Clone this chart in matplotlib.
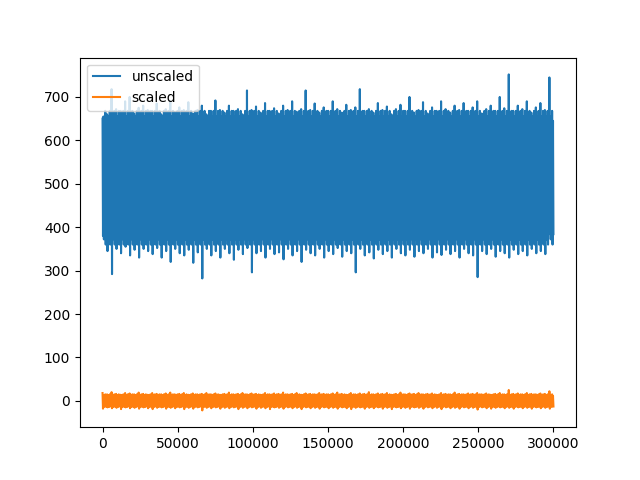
import numpy as np
import matplotlib
matplotlib.use("Agg")
import matplotlib.pyplot as plt

# envelope samples, one pair per ~3000 steps
unscaled_hi = [650, 660, 718, 672, 668, 690, 700, 662, 675, 680,
               670, 668, 685, 660, 672, 690, 665, 676, 670, 688,
               662, 670, 680, 660, 668, 692, 670, 664, 680, 668,
               672, 660, 715, 670, 678, 664, 686, 668, 674, 662,
               680, 670, 690, 666, 672, 715, 670, 685, 664, 676,
               668, 690, 672, 664, 682, 670, 676, 718, 668, 672,
               664, 686, 670, 678, 660, 672, 682, 668, 700, 664,
               670, 688, 662, 676, 668, 690, 672, 664, 680, 670,
               686, 668, 676, 690, 662, 672, 680, 668, 700, 674,
               752, 668, 680, 672, 690, 664, 676, 686, 670, 745]
unscaled_lo = [380, 345, 292, 350, 340, 355, 335, 348, 330, 350,
               345, 338, 352, 330, 345, 320, 350, 340, 335, 348,
               318, 342, 282, 350, 335, 345, 330, 350, 340, 325,
               348, 338, 352, 296, 340, 345, 330, 350, 338, 342,
               326, 350, 335, 345, 320, 348, 340, 335, 350, 330,
               345, 338, 352, 332, 345, 340, 296, 350, 335, 342,
               328, 348, 338, 345, 330, 350, 340, 335, 348, 332,
               345, 340, 350, 330, 342, 336, 348, 338, 345, 330,
               350, 340, 335, 285, 345, 338, 350, 332, 345, 340,
               330, 348, 338, 345, 335, 350, 340, 345, 338, 385]
# typical in-band swings around each envelope sample
unscaled_core = [655, 372, 632, 392, 668, 360, 645, 384]
scaled_hi = [18, 15, 20, 16, 14, 18, 17, 15, 19, 16,
             14, 18, 16, 15, 17, 19, 15, 16, 18, 14,
             17, 15, 16, 18, 15, 17, 14, 16, 19, 15,
             16, 18, 15, 17, 16, 14, 18, 15, 17, 16,
             19, 15, 16, 18, 14, 17, 16, 15, 18, 16,
             15, 17, 19, 16, 14, 18, 15, 17, 16, 20,
             15, 17, 16, 18, 14, 16, 19, 15, 17, 16,
             18, 15, 16, 17, 14, 18, 16, 15, 19, 16,
             15, 17, 16, 18, 15, 17, 14, 16, 18, 15,
             25, 16, 17, 15, 18, 16, 15, 17, 16, 22]
scaled_lo = [-18, -15, -17, -16, -19, -15, -17, -16, -18, -15,
             -17, -19, -16, -15, -18, -16, -17, -15, -19, -16,
             -18, -15, -22, -16, -17, -15, -18, -16, -17, -15,
             -19, -16, -17, -15, -18, -16, -17, -19, -15, -16,
             -18, -15, -17, -16, -19, -15, -17, -16, -18, -15,
             -17, -16, -18, -15, -17, -19, -16, -15, -18, -16,
             -17, -15, -18, -16, -19, -15, -17, -16, -18, -15,
             -16, -18, -15, -17, -16, -19, -15, -17, -16, -18,
             -15, -17, -16, -20, -15, -17, -18, -16, -15, -17,
             -16, -18, -15, -17, -16, -18, -15, -17, -16, -18]
scaled_core = [13, -11, 9, -14, 15, -9, 11, -13]
n_steps = 300000


def band(hi, lo, core):
    # each sample: its peak/trough once, then core swings to keep the band dense
    ys = []
    for h, l in zip(hi, lo):
        ys += [h, l] + core
    y = np.array(ys, dtype=float)
    x = np.linspace(0, n_steps, len(y))
    return x, y


fig, ax = plt.subplots(figsize=(6.4, 4.8), dpi=100)
ax.plot(*band(unscaled_hi, unscaled_lo, unscaled_core), label="unscaled")
ax.plot(*band(scaled_hi, scaled_lo, scaled_core), label="scaled")
ax.legend(loc="upper left")
fig.savefig("out.png")
